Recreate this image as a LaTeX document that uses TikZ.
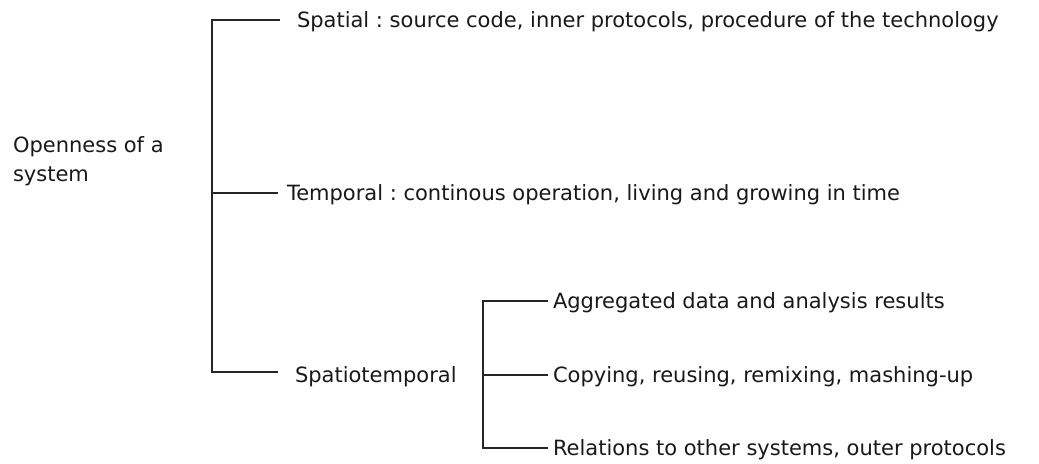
\documentclass[tikz,border=0pt]{standalone}
\usepackage{fontspec}
\setmainfont{DejaVu Sans}
\frenchspacing
\begin{document}
\begin{tikzpicture}[x=0.5pt,y=-0.5pt,
  conn/.style={draw=black!85,line width=0.6pt},
  lbl/.style={anchor=base west,inner sep=0pt,outer sep=0pt,text=black!90,
    font=\fontsize{10.5}{14.5}\selectfont}]
\useasboundingbox[fill=white] (0,0) rectangle (1039,463);

% root label
\node[lbl,align=left] (root) at (13,181) {Openness of a\\system};

% first level
\node[lbl] (sp) at (297,27)  {Spatial : source code, inner protocols, procedure of the technology};
\node[lbl] (tp) at (287,200) {Temporal : continous operation, living and growing in time};
\node[lbl] (st) at (295,382) {Spatiotemporal};

% second level
\node[lbl] (ag) at (553,308) {Aggregated data and analysis results};
\node[lbl] (co) at (553,382) {Copying, reusing, remixing, mashing-up};
\node[lbl] (re) at (553,455) {Relations to other systems, outer protocols};

% main bracket
\draw[conn] ([shift={(-17,-7)}]sp.base west) -- (212,20) -- (212,372)
  -- ([shift={(-17,-10)}]st.base west);
\draw[conn] (212,193) -- ([shift={(-9,-7)}]tp.base west);

% sub bracket
\draw[conn] ([shift={(-5,-7)}]ag.base west) -- (483,301) -- (483,448)
  -- ([shift={(-5,-7)}]re.base west);
\draw[conn] (483,375) -- ([shift={(-5,-7)}]co.base west);
\end{tikzpicture}
\end{document}
